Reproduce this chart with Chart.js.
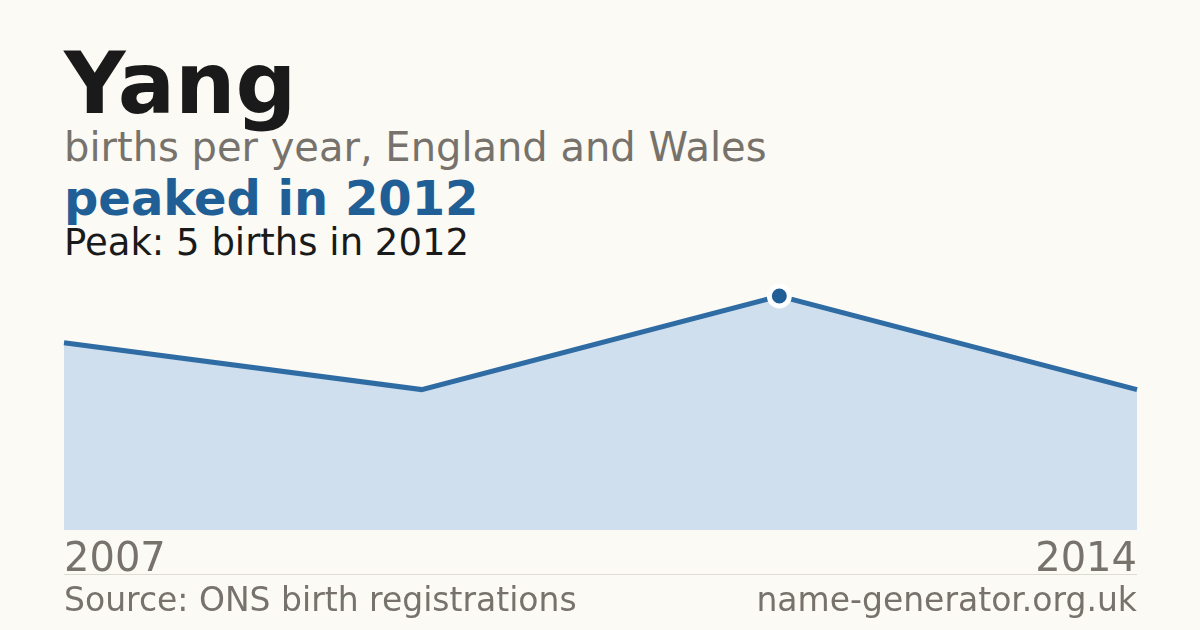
<!DOCTYPE html>
<html>
<head>
<meta charset="utf-8">
<script src="https://cdn.jsdelivr.net/npm/chart.js@4/dist/chart.umd.min.js"></script>
<style>
  html, body { margin: 0; padding: 0; background: #fbfaf5; }
  body { width: 1200px; height: 630px; position: relative; overflow: hidden; font-family: "DejaVu Sans", sans-serif; }
  #chartWrap { position: absolute; left: 0; top: 0; width: 1200px; height: 630px; }
  .txt { position: absolute; left: 64px; white-space: nowrap; line-height: 1; }
  #title { top: 41px; font-size: 85px; font-weight: bold; color: #1a1a1a; }
  #subtitle { top: 127px; font-size: 40px; color: #77726b; }
  #headline { top: 174px; font-size: 48px; font-weight: bold; color: #1f5f96; }
  #peak { top: 224px; font-size: 37px; color: #1a1a1a; }
  #rule { position: absolute; left: 64px; top: 574px; width: 1073px; height: 1px; background: #dedbd3; }
  .foot { position: absolute; top: 583px; font-size: 33px; color: #77726b; line-height: 1; white-space: nowrap; }
  #source { left: 64px; }
  #site { right: 63px; }
</style>
</head>
<body>
<div class="txt" id="title">Yang</div>
<div class="txt" id="subtitle">births per year, England and Wales</div>
<div class="txt" id="headline">peaked in 2012</div>
<div class="txt" id="peak">Peak: 5 births in 2012</div>
<div id="chartWrap"><canvas id="nameChart"></canvas></div>
<div id="rule"></div>
<div class="foot" id="source">Source: ONS birth registrations</div>
<div class="foot" id="site">name-generator.org.uk</div>
<script>
const years = ['2007', '2009', '2012', '2014'];
const births = [4, 3, 5, 3];
const peakIndex = 2;

const ctx = document.getElementById('nameChart').getContext('2d');
new Chart(ctx, {
  type: 'line',
  data: {
    labels: years,
    datasets: [{
      data: births,
      borderColor: '#2f6ca4',
      borderWidth: 5,
      backgroundColor: '#cfdfee',
      fill: 'origin',
      tension: 0,
      pointRadius: births.map((v, i) => i === peakIndex ? 10 : 0),
      pointBackgroundColor: '#1f5f96',
      pointBorderColor: '#ffffff',
      pointBorderWidth: 5,
      pointHoverRadius: 0,
      clip: false
    }]
  },
  options: {
    responsive: true,
    maintainAspectRatio: false,
    animation: false,
    layout: { padding: { left: 64, right: 63, top: 296, bottom: 0 } },
    scales: {
      x: {
        offset: false,
        border: { display: false },
        grid: { display: false, drawTicks: false },
        afterFit: (s) => { s.height = 100; },
        ticks: {
          autoSkip: false,
          maxRotation: 0,
          align: 'inner',
          padding: 7,
          color: '#77726b',
          font: { family: 'DejaVu Sans', size: 40 },
          callback: function(val, i) {
            return (i === 0 || i === years.length - 1) ? years[i] : '';
          }
        }
      },
      y: {
        display: false,
        min: 0,
        max: 5
      }
    },
    plugins: {
      legend: { display: false },
      tooltip: { enabled: false }
    }
  }
});
</script>
</body>
</html>
